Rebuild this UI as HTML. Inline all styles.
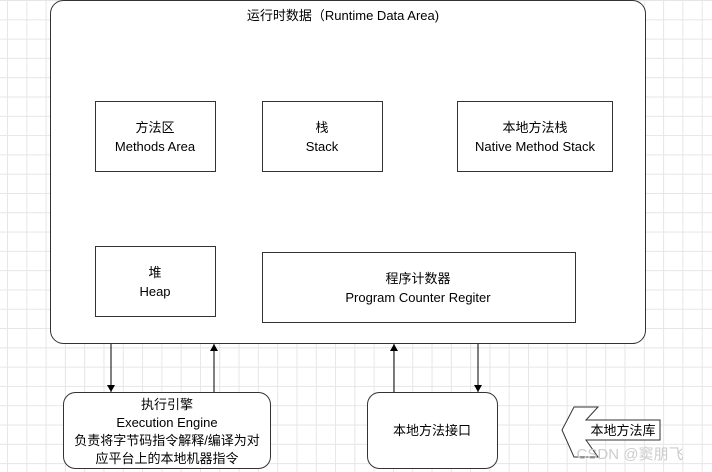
<!DOCTYPE html>
<html><head><meta charset="utf-8"><style>
body{margin:0;width:712px;height:472px;overflow:hidden;background:#fff;
background-image:linear-gradient(#e6e6e6 1px,transparent 1px),linear-gradient(90deg,#e6e6e6 1px,transparent 1px);
background-size:19.3px 19.3px;background-position:7px 0px;}
svg{position:absolute;left:0;top:0}
text{font-family:"Liberation Sans","Noto Sans CJK SC",sans-serif;font-size:13px;fill:#000;text-anchor:middle}
</style></head><body>
<svg width="712" height="472" viewBox="0 0 712 472">
<defs><marker id="a" markerWidth="8" markerHeight="8" refX="7" refY="4" orient="auto" markerUnits="userSpaceOnUse"><path d="M0,0 L7,4 L0,8 Z" fill="#000"/></marker></defs>
<rect x="50.5" y="0.5" width="595" height="343" rx="13" fill="#fff" stroke="#333"/>
<text x="343" y="20">运行时数据（Runtime Data Area)</text>
<g fill="#fff" stroke="#333">
<rect x="95.5" y="101.5" width="120" height="70"/>
<rect x="262.5" y="101.5" width="120" height="70"/>
<rect x="457.5" y="101.5" width="155" height="70"/>
<rect x="95.5" y="246.5" width="120" height="70"/>
<rect x="262.5" y="252.5" width="313" height="70"/>
<rect x="63.5" y="392.5" width="207" height="76" rx="12"/>
<rect x="367.5" y="392.5" width="130" height="76" rx="12"/>
<polygon points="574,407 598,407 586,420 660,420 660,440 586,440 598,457 574,457 562,430"/>
</g>
<text x="155" y="132">方法区</text><text x="155" y="151">Methods Area</text>
<text x="322" y="132">栈</text><text x="322" y="151">Stack</text>
<text x="535" y="132">本地方法栈</text><text x="535" y="151">Native Method Stack</text>
<text x="155" y="277">堆</text><text x="155" y="296">Heap</text>
<text x="418" y="283">程序计数器</text><text x="418" y="302">Program Counter Regiter</text>
<text x="167" y="409">执行引擎</text><text x="167" y="427">Execution Engine</text>
<text x="167" y="445">负责将字节码指令解释/编译为对</text><text x="167" y="463">应平台上的本地机器指令</text>
<text x="432" y="435">本地方法接口</text>
<text x="623" y="435">本地方法库</text>
<text x="630" y="459" style="fill:#ccc;font-size:15px">CSDN @窦朋飞</text>
<g stroke="#000">
<line x1="111" y1="344" x2="111" y2="392" marker-end="url(#a)"/>
<line x1="214" y1="392" x2="214" y2="344" marker-end="url(#a)"/>
<line x1="394" y1="392" x2="394" y2="344" marker-end="url(#a)"/>
<line x1="478" y1="344" x2="478" y2="392" marker-end="url(#a)"/>
</g>
</svg>
</body></html>
